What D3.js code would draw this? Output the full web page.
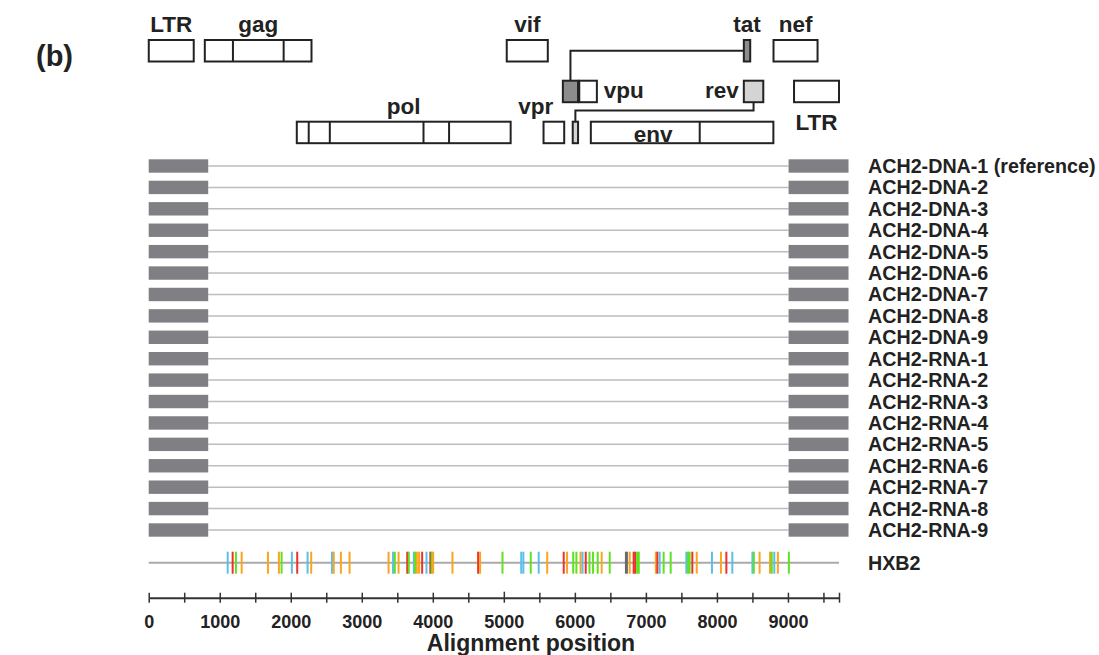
<!DOCTYPE html>
<html>
<head>
<meta charset="utf-8">
<script src="https://cdn.jsdelivr.net/npm/d3@7"></script>
<style>
body { margin: 0; background: #fff; }
svg text { font-family: "Liberation Sans", Arial, Helvetica, sans-serif; font-weight: bold; fill: #222; }
</style>
</head>
<body>
<div id="chart"></div>
<script>
"use strict";

// sequences in the alignment, top to bottom
var seqNames = [
    "ACH2-DNA-1 (reference)", "ACH2-DNA-2", "ACH2-DNA-3", "ACH2-DNA-4", "ACH2-DNA-5",
    "ACH2-DNA-6", "ACH2-DNA-7", "ACH2-DNA-8", "ACH2-DNA-9",
    "ACH2-RNA-1", "ACH2-RNA-2", "ACH2-RNA-3", "ACH2-RNA-4", "ACH2-RNA-5",
    "ACH2-RNA-6", "ACH2-RNA-7", "ACH2-RNA-8", "ACH2-RNA-9"
];
var hxb2Length = 9719;
// sequenced LTR blocks (alignment positions)
var blockStarts = [0, 9009];
var blockEnds = [838, 9853];

// HXB2 genome map
var geneIds    = ["LTR5", "gag", "vif", "tat2", "nef", "tat1", "vpu", "rev2", "LTR3", "pol", "vpr", "rev1", "env"];
var geneLabels = ["LTR", "gag", "vif", "tat", "nef", "", "vpu", "rev", "LTR", "pol", "vpr", "", "env"];
var geneStarts = [1, 790, 5041, 8379, 8797, 5831, 6062, 8379, 9086, 2085, 5559, 5970, 6225];
var geneEnds   = [634, 2292, 5619, 8469, 9417, 6045, 6310, 8653, 9719, 5096, 5850, 6045, 8795];
var geneTracks = [0, 0, 0, 0, 0, 1, 1, 1, 1, 2, 2, 2, 2];
var geneSplits = [[], [1186, 1900], [], [], [], [], [], [], [], [2253, 2550, 3869, 4229], [], [], [7758]];
var exonJoins = [["tat1", "tat2"], ["rev2", "rev1"]];

// HXB2 differences from reference
var diffPos = [1112, 1182, 1228, 1309, 1679, 1833, 1871, 2016, 2091, 2237, 2288, 2580, 2605, 2706, 2828,
    3377, 3440, 3465, 3518, 3640, 3662, 3733, 3750, 3775, 3807, 3850, 3911, 3965, 3985, 4005, 4277,
    4638, 4666, 4981, 5245, 5275, 5379, 5491, 5611, 5843, 5890, 5977, 6022, 6080, 6108, 6153, 6206,
    6256, 6322, 6378, 6491, 6726, 6772, 6828, 6850, 6877, 6900, 7140, 7162, 7194, 7250, 7349, 7570,
    7593, 7616, 7654, 7716, 7930, 8057, 8133, 8217, 8500, 8520, 8601, 8748, 8772, 8808, 8858, 9013];
var diffBase = ["C", "T", "A", "G", "G", "G", "A", "C", "T", "C", "G", "C", "G", "G", "G",
    "G", "C", "A", "G", "T", "A", "C", "A", "G", "G", "T", "C", "T", "A", "G", "G",
    "T", "G", "A", "C", "C", "A", "C", "G", "T", "G", "A", "A", "G", "C", "T", "A",
    "A", "A", "G", "A", "-", "G", "T", "T", "A", "A", "G", "T", "C", "A", "A", "C",
    "A", "A", "T", "G", "C", "G", "T", "C", "C", "A", "G", "G", "A", "C", "G", "A"];

var width = 1099, height = 655;
var svg = d3.select("#chart").append("svg").attr("width", width).attr("height", height);

var x = d3.scaleLinear().domain([0, hxb2Length]).range([148.7, 839]);
var y = d3.scalePoint().domain(seqNames).range([166, 530]);
var hxb2Y = 562.7, axisY = 597.7;
var baseColor = d3.scaleOrdinal()
    .domain(["A", "C", "G", "T", "-"])
    .range(["#5fe21f", "#5bbfea", "#fba51c", "#ee3129", "#6a6a6a"]);

svg.append("text").attr("x", 36).attr("y", 66).style("font-size", "29px").text("(b)");

// ---- genome map ----
var trackTop = [40, 80.7, 121.7], boxH = 21.5;
var genes = geneIds.map(function (id, i) {
    return { id: id, label: geneLabels[i], start: geneStarts[i], end: geneEnds[i],
        track: geneTracks[i], splits: geneSplits[i] };
});
var byId = {};
genes.forEach(function (g) { byId[g.id] = g; });
var mid = function (g) { return x((g.start + g.end) / 2); };

var map = svg.append("g").attr("class", "map");

// spliced exon connectors
var tat1 = byId[exonJoins[0][0]], tat2 = byId[exonJoins[0][1]];
map.append("path")
    .attr("d", "M" + mid(tat1) + "," + trackTop[1] + "V" + 50.7 + "H" + x(tat2.start))
    .attr("fill", "none").attr("stroke", "#222").attr("stroke-width", 2);
var rev2 = byId[exonJoins[1][0]], rev1 = byId[exonJoins[1][1]];
map.append("path")
    .attr("d", "M" + mid(rev2) + "," + (trackTop[1] + boxH) + "V" + 110.5 + "H" + mid(rev1) + "V" + trackTop[2])
    .attr("fill", "none").attr("stroke", "#222").attr("stroke-width", 2);

map.selectAll("rect.gene")
    .data(genes)
    .enter().append("rect")
    .attr("class", "gene")
    .attr("x", function (d) { return x(d.start); })
    .attr("y", function (d) { return trackTop[d.track]; })
    .attr("width", function (d) { return x(d.end) - x(d.start); })
    .attr("height", boxH)
    .attr("fill", function (d) {
        if (d.id.indexOf("tat") === 0) return "#8c8c8c";
        if (d.id.indexOf("rev") === 0) return "#d4d4d4";
        return "#fff";
    })
    .attr("stroke", "#222").attr("stroke-width", 2);

genes.forEach(function (g) {
    g.splits.forEach(function (s) {
        map.append("line")
            .attr("x1", x(s)).attr("x2", x(s))
            .attr("y1", trackTop[g.track]).attr("y2", trackTop[g.track] + boxH)
            .attr("stroke", "#222").attr("stroke-width", 2);
    });
});

// label placement
var labelPlace = {
    vpu: function (g) { return [x(g.end) + 7, trackTop[1] + 17.5, "start"]; },
    rev2: function (g) { return [x(g.start) - 5, trackTop[1] + 17.5, "end"]; },
    LTR3: function (g) { return [mid(g), trackTop[1] + boxH + 28, "middle"]; },
    vpr: function (g) { return [mid(g) - 18, trackTop[2] - 8, "middle"]; },
    env: function (g) { return [x(6991) + 8, trackTop[2] + 20, "middle"]; }
};
map.selectAll("text.gene-label")
    .data(genes.filter(function (g) { return g.label; }))
    .enter().append("text")
    .attr("class", "gene-label")
    .each(function (d) {
        var p = labelPlace[d.id] ? labelPlace[d.id](d) : [mid(d), trackTop[d.track] - 8, "middle"];
        d3.select(this).attr("x", p[0]).attr("y", p[1]).attr("text-anchor", p[2]);
    })
    .style("font-size", "22.5px")
    .text(function (d) { return d.label; });

// ---- sequence rows ----
var rows = svg.append("g").attr("class", "rows")
    .selectAll("g")
    .data(seqNames)
    .enter().append("g")
    .attr("transform", function (d) { return "translate(0," + y(d) + ")"; });

rows.append("line")
    .attr("x1", x(blockEnds[0])).attr("x2", x(blockStarts[1]))
    .attr("y1", 0).attr("y2", 0)
    .attr("stroke", "#bdbdbd").attr("stroke-width", 1.5);

rows.selectAll("rect")
    .data(blockStarts.map(function (s, i) { return [s, blockEnds[i]]; }))
    .enter().append("rect")
    .attr("x", function (d) { return x(d[0]); })
    .attr("width", function (d) { return x(d[1]) - x(d[0]); })
    .attr("y", -6.7).attr("height", 13.4)
    .attr("fill", "#808084");

rows.append("text")
    .attr("x", 868).attr("y", 7)
    .style("font-size", "19.7px")
    .text(function (d) { return d; });

// ---- HXB2 row ----
var hx = svg.append("g").attr("transform", "translate(0," + hxb2Y + ")");
hx.append("line")
    .attr("x1", x(0)).attr("x2", x(hxb2Length))
    .attr("stroke", "#aaa").attr("stroke-width", 2);
hx.selectAll("line.diff")
    .data(diffPos.map(function (p, i) { return { pos: p, base: diffBase[i] }; }))
    .enter().append("line")
    .attr("class", "diff")
    .attr("x1", function (d) { return x(d.pos); })
    .attr("x2", function (d) { return x(d.pos); })
    .attr("y1", -11).attr("y2", 11)
    .attr("stroke", function (d) { return baseColor(d.base); })
    .attr("stroke-width", function (d) { return d.base === "-" ? 3 : 2; });
hx.append("text").attr("x", 868).attr("y", 7).style("font-size", "19.7px").text("HXB2");

// ---- axis ----
var axis = d3.axisBottom(x)
    .tickValues(d3.range(0, 9501, 500).concat([hxb2Length]))
    .tickSizeOuter(0)
    .tickFormat(function (d) { return d % 1000 === 0 ? d : ""; });
var axisG = svg.append("g").attr("transform", "translate(0," + axisY + ")").call(axis);
axisG.select(".domain").attr("stroke", "#333").attr("stroke-width", 2);
axisG.selectAll(".tick line")
    .attr("y1", function (d) { return d === 5000 ? -6 : -5; })
    .attr("y2", 5)
    .attr("stroke", "#333").attr("stroke-width", 1.5);
axisG.selectAll(".tick text").attr("y", 30).attr("dy", 0).style("font-size", "18px");

svg.append("text")
    .attr("x", 531).attr("y", 651)
    .attr("text-anchor", "middle")
    .style("font-size", "23px")
    .text("Alignment position");
</script>
</body>
</html>
